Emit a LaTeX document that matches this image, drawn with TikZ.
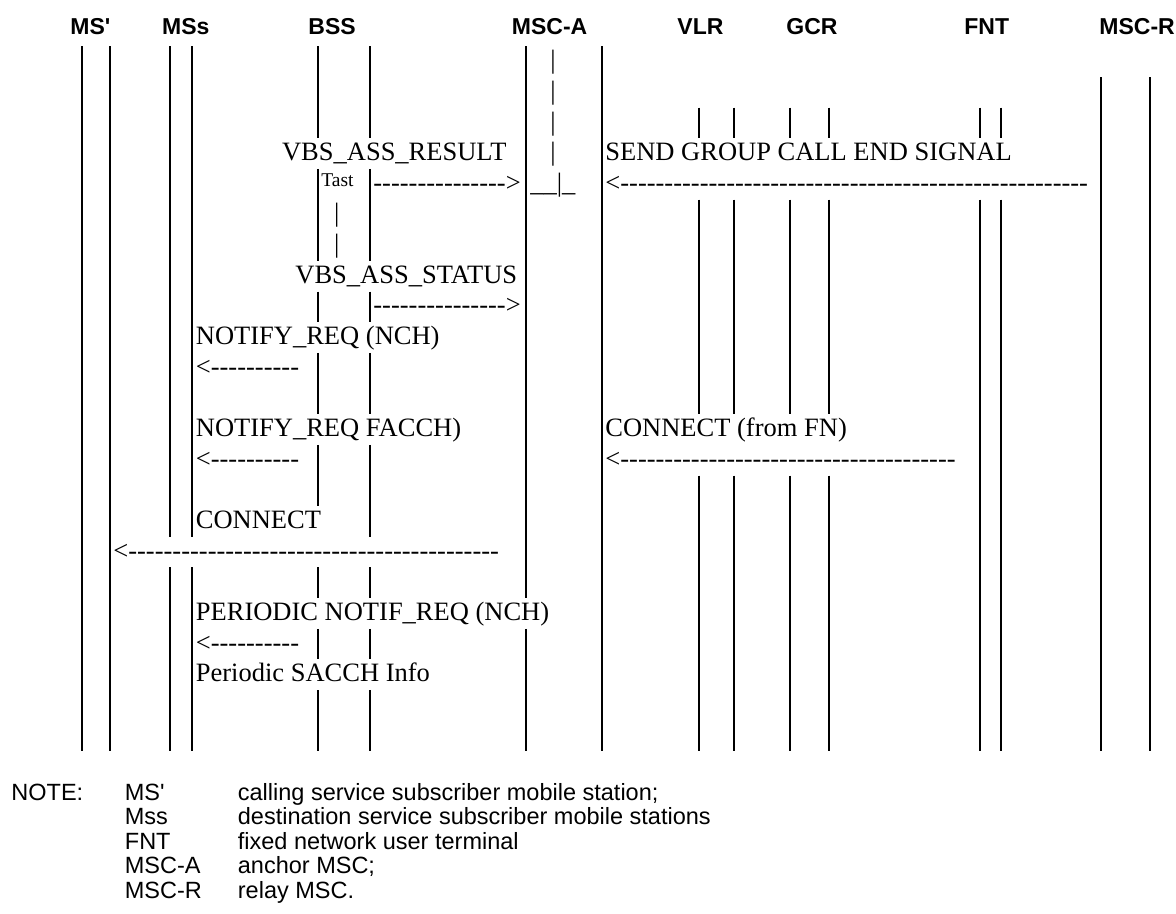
\documentclass[tikz,border=0pt]{standalone}
\usepackage{fontspec}
\newfontfamily\tnr{Liberation Serif}
\newfontfamily\arl{Liberation Sans}
\newcommand\dsh[1]{\foreach \i in {1,...,#1}{-\kern0pt}}
\newcommand\seg[3]{\draw[life] (#1,{138.35+30.65*(#2)}) -- (#1,{169+30.65*(#3)});}
\newcommand\B[1]{160.7+30.65*(#1)}
\begin{document}
\begin{tikzpicture}[x=0.5pt,y=-0.5pt,
  life/.style={line width=1.15pt},
  msg/.style={anchor=base west,inner sep=0pt,font=\tnr\fontsize{13.25}{15}\selectfont},
  tbar/.style={anchor=base,inner sep=0pt,font=\tnr\fontsize{13.25}{15}\selectfont},
  small/.style={anchor=base west,inner sep=0pt,font=\tnr\fontsize{9.75}{11}\selectfont},
  hdr/.style={anchor=base west,inner sep=0pt,font=\arl\bfseries\fontsize{11.5}{13}\selectfont},
  note/.style={anchor=base west,inner sep=0pt,font=\arl\fontsize{11.75}{13}\selectfont}]
\useasboundingbox (0,0) rectangle (1176,914);

% headers
\node[hdr] (hMSp) at (70,35) {MS'};
\node[hdr] (hMSs) at (161.7,35) {MSs};
\node[hdr] (hBSS) at (308,35) {BSS};
\node[hdr] (hMSCA) at (511.5,35) {MSC-A};
\node[hdr] (hVLR) at (677,35) {VLR};
\node[hdr] (hGCR) at (786,35) {GCR};
\node[hdr] (hFNT) at (964,35) {FNT};
\node[hdr] (hMSCR) at (1099,35) {MSC-R};

% lifelines
\seg{81.7}{-3}{19}
\seg{110}{-3}{19}
\seg{170}{-3}{12} \seg{170}{14}{19}
\seg{191.7}{-3}{12} \seg{191.7}{14}{19}
\seg{317.7}{-3}{-1} \seg{317.7}{1}{3} \seg{317.7}{5}{5} \seg{317.7}{7}{8}
\seg{317.7}{10}{11} \seg{317.7}{14}{14} \seg{317.7}{16}{16} \seg{317.7}{18}{19}
\seg{370}{-3}{-1} \seg{370}{1}{3} \seg{370}{5}{5} \seg{370}{7}{8}
\seg{370}{10}{12} \seg{370}{14}{14} \seg{370}{16}{16} \seg{370}{18}{19}
\seg{526}{-3}{14} \seg{526}{16}{19}
\seg{602}{-3}{19}
\foreach \xx in {699,734,790,829}{\seg{\xx}{-1}{-1} \seg{\xx}{2}{8} \seg{\xx}{11}{19}}
\foreach \xx in {980,1001}{\seg{\xx}{-1}{-1} \seg{\xx}{2}{19}}
\foreach \xx in {1101,1150}{\seg{\xx}{-2}{19}}

% MSC-A timer bars
\foreach \n in {-3,-2,-1,0}{\node[tbar] (ta\n) at (553,{\B{\n}}) {|};}
% Tast timer bars
\foreach \n in {2,3}{\node[tbar] (tb\n) at (336.7,{\B{\n}}) {|};}

% row 0
\node[msg] (m1) at (281.7,{\B{0}}) {VBS\_ASS\_RESULT};
\node[msg] (m2) at (605,{\B{0}}) {SEND GROUP CALL END SIGNAL};
% row 1
\node[small] (tast) at (321,187) {Tast};
\node[msg] (a1) at (373,{\B{1}}) {\dsh{15}>};
\node[msg] (a1b) at (530,{\B{1}}) {\_\_|\_};
\node[msg] (a2) at (605,{\B{1}}) {<\dsh{53}};
% row 4-5
\node[msg] (m3) at (295,{\B{4}}) {VBS\_ASS\_STATUS};
\node[msg] (a3) at (373,{\B{5}}) {\dsh{15}>};
% row 6-7
\node[msg] (m4) at (195.5,{\B{6}}) {NOTIFY\_REQ (NCH)};
\node[msg] (a4) at (195.5,{\B{7}}) {<\dsh{10}};
% row 9-10
\node[msg] (m5) at (195.5,{\B{9}}) {NOTIFY\_REQ FACCH)};
\node[msg] (m6) at (605,{\B{9}}) {CONNECT (from FN)};
\node[msg] (a5) at (195.5,{\B{10}}) {<\dsh{10}};
\node[msg] (a6) at (605,{\B{10}}) {<\dsh{38}};
% row 12-13
\node[msg] (m7) at (195.5,{\B{12}}) {CONNECT};
\node[msg] (a7) at (113,{\B{13}}) {<\dsh{42}};
% row 15-17
\node[msg] (m8) at (195.5,{\B{15}}) {PERIODIC NOTIF\_REQ (NCH)};
\node[msg] (a8) at (195.5,{\B{16}}) {<\dsh{10}};
\node[msg] (m9) at (195.5,{\B{17}}) {Periodic SACCH Info};

% note
\node[note] (n0) at (11,800) {NOTE:};
\node[note] (n1a) at (124.5,800) {MS'};
\node[note] (n1b) at (237.5,800) {calling service subscriber mobile station;};
\node[note] (n2a) at (124.5,824.5) {Mss};
\node[note] (n2b) at (237.5,824.5) {destination service subscriber mobile stations};
\node[note] (n3a) at (124.5,849) {FNT};
\node[note] (n3b) at (237.5,849) {fixed network user terminal};
\node[note] (n4a) at (124.5,873.5) {MSC-A};
\node[note] (n4b) at (237.5,873.5) {anchor MSC;};
\node[note] (n5a) at (124.5,898) {MSC-R};
\node[note] (n5b) at (237.5,898) {relay MSC.};
\end{tikzpicture}
\end{document}
